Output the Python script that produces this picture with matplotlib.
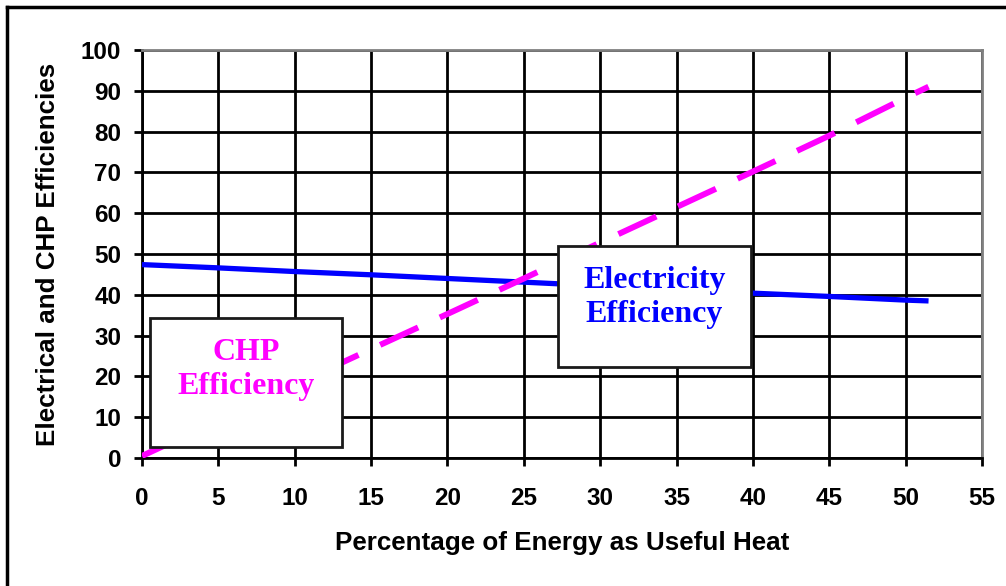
import matplotlib
matplotlib.use("Agg")
import matplotlib.pyplot as plt
from matplotlib.patches import Rectangle
from matplotlib.lines import Line2D

heat_pct = [0, 5, 10, 15, 20, 25, 30, 35, 40, 45, 50, 51.5]
elec_eff = [47.4, 46.6, 45.7, 44.9, 44.0, 43.1, 42.2, 41.3, 40.4, 39.6, 38.7, 38.5]
chp_eff = [0.5, 9.2, 18.0, 26.7, 35.3, 44.0, 52.8, 61.5, 70.2, 79.0, 88.3, 91.0]

x_ticks = list(range(0, 56, 5))
y_ticks = list(range(0, 101, 10))

W, H = 1006, 586
fig = plt.figure(figsize=(W / 100, H / 100), dpi=100)
fig.patch.set_facecolor("white")

# axes in pixel positions
x0, x1 = 142, 982
ytop, ybot = 50, 458
ax = fig.add_axes([x0 / W, 1 - ybot / H, (x1 - x0) / W, (ybot - ytop) / H])

ax.set_xlim(0, 55)
ax.set_ylim(0, 100)
ax.set_xticks(x_ticks)
ax.set_yticks(y_ticks)
ax.grid(True, color="black", linewidth=2.0)
ax.set_axisbelow(True)

for s in ("left", "bottom"):
    ax.spines[s].set_color("black")
    ax.spines[s].set_linewidth(2.0)
for s in ("top", "right"):
    ax.spines[s].set_color("#808080")
    ax.spines[s].set_linewidth(2.0)

ax.tick_params(axis="both", direction="out", length=6, width=2, color="black",
               labelsize=17.5)
ax.tick_params(axis="x", pad=15)
ax.tick_params(axis="y", pad=9)
for lab in ax.get_xticklabels() + ax.get_yticklabels():
    lab.set_fontweight("bold")
    lab.set_fontfamily("Liberation Sans")

ax.plot(heat_pct, elec_eff, color="#0000FF", linewidth=3.8, solid_capstyle="butt", zorder=3)
ax.plot(heat_pct, chp_eff, color="#FF00FF", linewidth=4.3, dashes=(7, 4),
        dash_capstyle="butt", zorder=3)

ax.set_xlabel("Percentage of Energy as Useful Heat", fontsize=18.7, fontweight="bold",
              family="Liberation Sans", va="center")
ax.set_ylabel("Electrical and CHP Efficiencies", fontsize=18.7, fontweight="bold",
              family="Liberation Sans", va="center")
ax.xaxis.set_label_coords((562 - x0) / (x1 - x0), (ybot - 543) / (ybot - ytop))
ax.yaxis.set_label_coords((48 - x0) / (x1 - x0), (ybot - 254) / (ybot - ytop))

# annotation boxes
ax.add_patch(Rectangle((27.25, 22.2), 12.6, 29.7, facecolor="white", edgecolor="#1a1a1a",
                       linewidth=2, zorder=4))
ax.text(33.55, 47.0, "Electricity\nEfficiency", color="#0000FF", fontsize=23,
        fontweight="bold", family="Liberation Serif", ha="center", va="top",
        linespacing=1.22, zorder=5)

ax.add_patch(Rectangle((0.52, 2.6), 12.6, 31.7, facecolor="white", edgecolor="#1a1a1a",
                       linewidth=2, zorder=4))
ax.text(6.82, 29.4, "CHP\nEfficiency", color="#FF00FF", fontsize=23,
        fontweight="bold", family="Liberation Serif", ha="center", va="top",
        linespacing=1.22, zorder=5)

# outer frame (left and top visible)
fig.add_artist(Line2D([7 / W, 7 / W], [0, 1 - 7 / H], color="black", linewidth=2.5,
                      transform=fig.transFigure))
fig.add_artist(Line2D([7 / W, 1], [1 - 7 / H, 1 - 7 / H], color="black", linewidth=2.5,
                      transform=fig.transFigure))

fig.savefig("out.png", dpi=100, facecolor="white")
